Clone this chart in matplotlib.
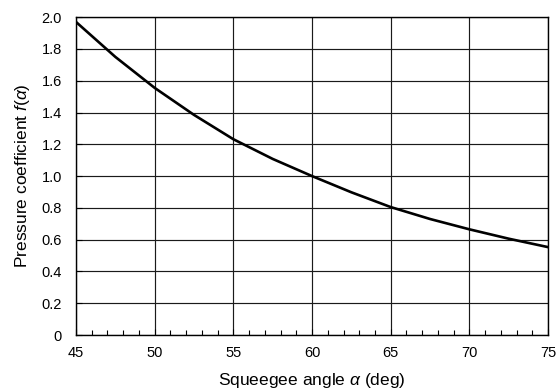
import matplotlib
matplotlib.use("Agg")
import matplotlib.pyplot as plt
from matplotlib.ticker import MultipleLocator, FixedLocator

plt.rcParams.update(
    {
        "font.family": "Liberation Sans",
        "mathtext.fontset": "custom",
        "mathtext.rm": "Liberation Sans",
        "mathtext.it": "Liberation Sans:italic",
    }
)

# values
angle_deg = [45, 47.5, 50, 52.5, 55, 57.5, 60, 62.5, 65, 67.5, 70, 72.5, 75]
pressure_coef = [1.97, 1.75, 1.555, 1.385, 1.232, 1.108, 1.00, 0.898, 0.805, 0.730, 0.665, 0.606, 0.553]

y_ticks = [0, 0.2, 0.4, 0.6, 0.8, 1.0, 1.2, 1.4, 1.6, 1.8, 2.0]
y_ticklabels = ["0", "0.2", "0.4", "0.6", "0.8", "1.0", "1.2", "1.4", "1.6", "1.8", "2.0"]
x_ticks = [45, 50, 55, 60, 65, 70, 75]

fig = plt.figure(figsize=(5.6, 3.9), dpi=100)
ax = fig.add_axes([0.1357, 0.141, 0.843, 0.815])

ax.plot(angle_deg, pressure_coef, color="black", linewidth=1.9, zorder=3)

ax.set_xlim(45, 75)
ax.set_ylim(0, 2.0)
ax.xaxis.set_major_locator(FixedLocator(x_ticks))
ax.xaxis.set_minor_locator(MultipleLocator(1))
ax.set_yticks(y_ticks)
ax.set_yticklabels(y_ticklabels)

ax.grid(True, which="major", color="#1a1a1a", linewidth=0.85)
ax.tick_params(which="both", direction="in", labelsize=10.5, top=False, right=False)
ax.tick_params(axis="y", which="major", length=4, width=0.8, pad=10)
ax.tick_params(axis="x", which="major", length=4, width=0.8, pad=8)
ax.tick_params(which="minor", length=3.5, width=0.8)
for spine in ax.spines.values():
    spine.set_linewidth(1.0)
    spine.set_color("black")

ax.set_xlabel(r"Squeegee angle $\alpha$ (deg)", fontsize=12.5, labelpad=8)
ax.set_ylabel(r"Pressure coefficient $f(\alpha)$", fontsize=12.5, labelpad=7)

fig.savefig("out.png", dpi=100, facecolor="white")
